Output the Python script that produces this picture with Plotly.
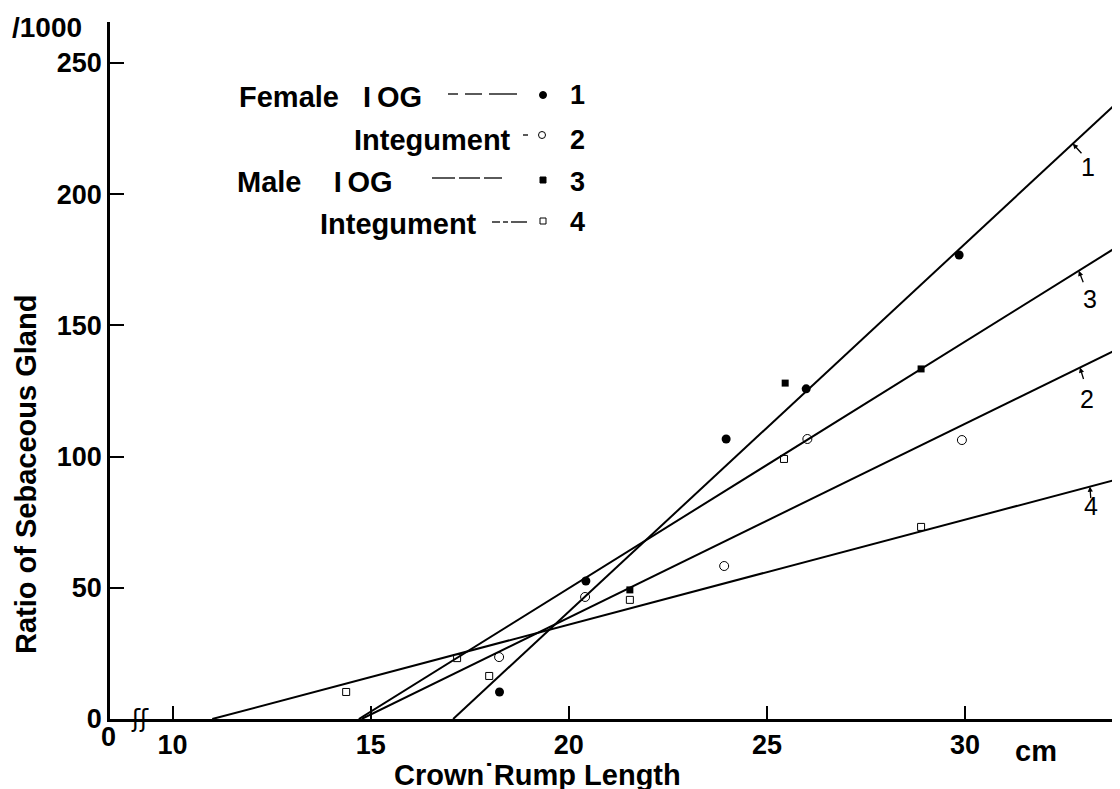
import plotly.graph_objects as go

# ---------------- data ----------------
female_iog_x = [18.25, 20.43, 23.97, 25.99, 29.85]
female_iog_y = [10.3, 52.6, 106.7, 125.8, 176.8]

female_int_x = [18.24, 20.41, 23.92, 26.02, 29.92]
female_int_y = [23.6, 46.5, 58.3, 106.7, 106.3]

male_iog_x = [21.54, 25.46, 28.89]
male_iog_y = [49.2, 128.0, 133.4]

male_int_x = [14.38, 17.18, 17.99, 21.54, 25.43, 28.89, 33.86]
male_int_y = [10.3, 23.2, 16.4, 45.4, 99.1, 73.2, 73.9]

# fitted lines: [x start, x end], [y start, y end]
line1_x = [17.08, 33.91]; line1_y = [0, 235.9]
line2_x = [14.77, 33.91]; line2_y = [0, 141.4]
line3_x = [14.70, 33.91]; line3_y = [0, 180.6]
line4_x = [11.00, 33.91]; line4_y = [0, 91.6]

x_tick_vals = [10, 15, 20, 25, 30]
x_tick_text = ["10", "15", "20", "25", "30"]
y_tick_vals = [0, 50, 100, 150, 200, 250]
y_tick_text = ["0", "50", "100", "150", "200", "250"]

# ---------------- layout constants ----------------
OFF = 8                     # page body margin of the html page
W, H = 1120 - OFF, 789 - OFF
ML, MR, MT, MB = 110 - OFF, 0, 22 - OFF, 70
X_ORIGIN = 8.42             # where the broken axis starts (labelled 0)
X_MAX = 33.91
Y_MAX = 265.6
FONT = "Liberation Sans, Arial, Helvetica, sans-serif"

# helpers: convert reference-picture pixel positions to paper coords
def px(x):
    return (x - OFF - ML) / (W - ML - MR)

def py(y):
    return (H - MB - (y - OFF)) / (H - MB - MT)

fig = go.Figure()

for lx, ly in [(line1_x, line1_y), (line2_x, line2_y), (line3_x, line3_y), (line4_x, line4_y)]:
    fig.add_trace(go.Scatter(x=lx, y=ly, mode="lines",
                             line=dict(color="black", width=2), hoverinfo="skip"))

fig.add_trace(go.Scatter(x=female_iog_x, y=female_iog_y, mode="markers",
                         marker=dict(symbol="circle", size=9, color="black")))
fig.add_trace(go.Scatter(x=female_int_x, y=female_int_y, mode="markers",
                         marker=dict(symbol="circle-open", size=9, color="black",
                                     line=dict(width=1))))
fig.add_trace(go.Scatter(x=male_iog_x, y=male_iog_y, mode="markers",
                         marker=dict(symbol="square", size=7, color="black")))
fig.add_trace(go.Scatter(x=male_int_x, y=male_int_y, mode="markers",
                         marker=dict(symbol="square-open", size=7, color="black",
                                     line=dict(width=1))))

annotations = []

def txt(text, x, y, size=29, bold=True, xanchor="center", angle=0, family=FONT):
    t = f"<b>{text}</b>" if bold else text
    annotations.append(dict(text=t, x=px(x), y=py(y), xref="paper", yref="paper",
                            xanchor=xanchor, yanchor="middle", showarrow=False,
                            textangle=angle,
                            font=dict(family=family, size=size, color="black")))

# axis titles / units
txt("Ratio of Sebaceous Gland", 26, 475, angle=-90)
txt("Crown\u02d9Rump Length", 537, 775)
txt("cm", 1036, 751)
txt("/1000", 47, 27, size=28)
txt("0", 108, 737, size=27)
txt("\u0283\u0283", 140, 719, size=24, bold=False, family="DejaVu Sans")

# legend block
txt("Female\u00a0\u00a0 I\u2009OG", 237, 97, xanchor="left")
txt("Integument", 352, 140, xanchor="left")
txt("Male\u00a0\u00a0\u00a0 I\u2009OG", 235, 182, xanchor="left")
txt("Integument", 318, 224, xanchor="left")
for lab, yy in zip(["1", "2", "3", "4"], [95, 140, 182, 222]):
    txt(lab, 577, yy, size=27)

shapes = []
def seg(x0, x1, y):
    shapes.append(dict(type="line", xref="paper", yref="paper",
                       x0=px(x0), x1=px(x1), y0=py(y), y1=py(y),
                       line=dict(color="black", width=1.3)))
for a, b in [(448, 458), (465, 482), (489, 517)]:
    seg(a, b, 94)
seg(523, 528, 135)
for a, b in [(432, 455), (459, 480), (484, 502)]:
    seg(a, b, 178)
for a, b in [(492, 500), (503, 508), (511, 527)]:
    seg(a, b, 222)

def dot(cx, cy, r, kind, filled):
    shapes.append(dict(type=kind, xref="paper", yref="paper",
                       x0=px(cx - r), x1=px(cx + r), y0=py(cy + r), y1=py(cy - r),
                       line=dict(color="black", width=1),
                       fillcolor="black" if filled else "white"))
dot(543, 95, 3.5, "circle", True)
dot(542, 135, 3.5, "circle", False)
dot(543, 180, 3, "rect", True)
dot(543, 221, 3, "rect", False)

# numbered arrows pointing to the lines
def line_y_at(lx, ly, x):
    return ly[0] + (ly[1] - ly[0]) * (x - lx[0]) / (lx[1] - lx[0])

for lab, lx, ly, xt, ax, ay, tx, ty in [
    ("1", line1_x, line1_y, 32.72, 10, 11, 1088, 167),
    ("3", line3_x, line3_y, 32.87, 5, 13, 1090, 299),
    ("2", line2_x, line2_y, 32.90, 4, 13, 1087, 399),
    ("4", line4_x, line4_y, 33.15, 1, 13, 1091, 506),
]:
    annotations.append(dict(text="", x=xt, y=line_y_at(lx, ly, xt), xref="x", yref="y",
                            showarrow=True, ax=ax, ay=ay, arrowhead=2, arrowsize=0.8,
                            arrowwidth=1.3, arrowcolor="black", standoff=0))
    txt(lab, tx, ty, size=25, bold=False)

fig.update_layout(
    width=W, height=H,
    margin=dict(l=ML, r=MR, t=MT, b=MB, pad=0),
    paper_bgcolor="white", plot_bgcolor="white",
    showlegend=False,
    font=dict(family=FONT, color="black"),
    annotations=annotations, shapes=shapes,
    xaxis=dict(range=[X_ORIGIN, X_MAX], showgrid=False, zeroline=False,
               showline=True, linecolor="black", linewidth=2.5,
               tickmode="array", tickvals=x_tick_vals, ticktext=x_tick_text,
               ticks="inside", ticklen=13, tickwidth=1.5, tickcolor="black",
               tickfont=dict(family=FONT, size=27, color="black", weight="bold")),
    yaxis=dict(range=[0, Y_MAX], showgrid=False, zeroline=False,
               showline=True, linecolor="black", linewidth=2.5,
               tickmode="array", tickvals=y_tick_vals, ticktext=y_tick_text,
               ticks="inside", ticklen=14, tickwidth=1.5, tickcolor="black",
               tickfont=dict(family=FONT, size=27, color="black", weight="bold")),
)

fig.write_html("out.html")
